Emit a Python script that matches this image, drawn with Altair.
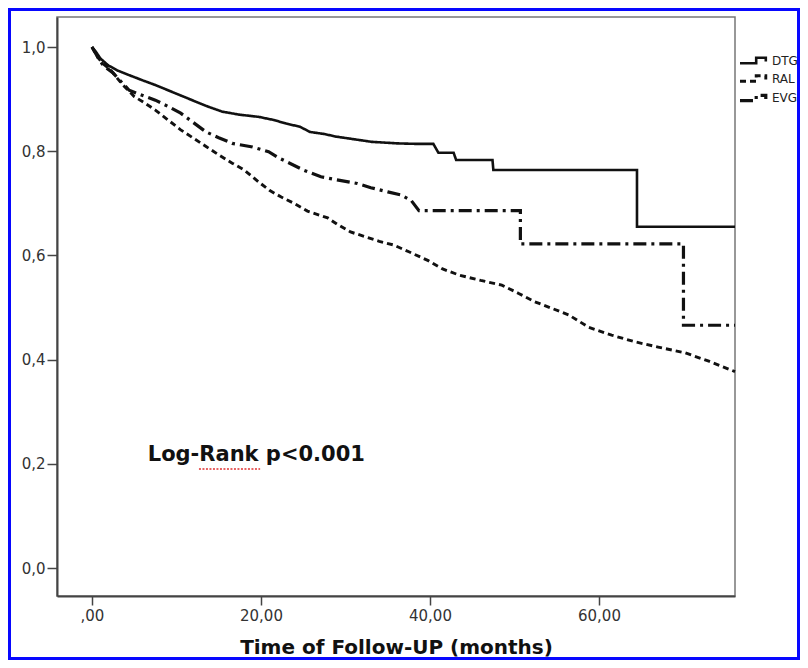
import altair as alt
import pandas as pd

# ---- data (Kaplan-Meier estimates) ----
series_names = ["DTG", "RAL", "EVG"]

dtg_t = [0, 0.5, 1, 1.9, 3, 4.4, 6, 7.5, 9, 10.5, 12, 13.5, 15.4, 17.5, 19.7, 21.5, 23,
         24.6, 25.8, 27.5, 28.9, 31, 33.1, 36.2, 38.5, 40.4, 41.0, 42.8, 43.1, 47.4, 47.5,
         64.5, 64.5, 76.1]
dtg_s = [1.0, 0.99, 0.978, 0.965, 0.955, 0.946, 0.936, 0.927, 0.917, 0.907, 0.897, 0.887,
         0.876, 0.870, 0.866, 0.860, 0.853, 0.847, 0.837, 0.833, 0.828, 0.823, 0.818, 0.815,
         0.814, 0.814, 0.797, 0.797, 0.783, 0.783, 0.764, 0.764, 0.655, 0.655]

evg_t = [0, 0.7, 1.3, 2.5, 4.4, 6, 7.5, 9, 10.5, 12, 13.5, 15, 16.6, 19, 20.9, 22, 23.4, 25,
         27.1, 29, 31.4, 33, 35, 36.6, 37.8, 38.7, 50.7, 50.7, 70.0, 70.0, 76.1]
evg_s = [1.0, 0.98, 0.965, 0.95, 0.917, 0.907, 0.898, 0.886, 0.873, 0.855, 0.837, 0.826,
         0.815, 0.808, 0.799, 0.788, 0.777, 0.764, 0.751, 0.745, 0.738, 0.730, 0.722, 0.716,
         0.705, 0.686, 0.686, 0.622, 0.622, 0.466, 0.466]

ral_t = [0, 0.7, 1.3, 2.2, 3.5, 5, 6.3, 7.5, 9, 10.5, 12, 13.5, 15, 16.6, 18, 19.8, 21, 22.4,
         23.9, 25.5, 27.9, 29, 30.6, 32.5, 34, 35.7, 37.5, 39.8, 41.5, 43.5, 46, 48.5, 50.5,
         52.4, 54.5, 56.4, 58.8, 61.5, 64.3, 67, 70.2, 73, 76.1]
ral_s = [1.0, 0.98, 0.968, 0.956, 0.93, 0.905, 0.892, 0.879, 0.86, 0.841, 0.825, 0.809,
         0.793, 0.777, 0.764, 0.740, 0.725, 0.712, 0.700, 0.685, 0.672, 0.660, 0.645, 0.635,
         0.627, 0.620, 0.607, 0.590, 0.574, 0.562, 0.552, 0.543, 0.527, 0.511, 0.498, 0.486,
         0.462, 0.447, 0.434, 0.424, 0.413, 0.397, 0.377]

x_ticks = [0, 20, 40, 60]
y_ticks = [0.0, 0.2, 0.4, 0.6, 0.8, 1.0]
x_domain = [-4.14, 76.1]
y_domain = [-0.0537, 1.0576]

annot_text = "Log-Rank p<0.001"
annot_x, annot_y = 6.6, 0.205
squiggle_x, squiggle_x2, squiggle_y = 12.66, 19.9, 0.19

# ---- build long table ----
rows = []
for name, ts, ss in [("DTG", dtg_t, dtg_s), ("RAL", ral_t, ral_s), ("EVG", evg_t, evg_s)]:
    for i, (t, s) in enumerate(zip(ts, ss)):
        rows.append({"series": name, "t": t, "s": s, "i": i})
df = pd.DataFrame(rows)

W, H = 678, 579

xscale = alt.Scale(domain=x_domain, nice=False, zero=False)
yscale = alt.Scale(domain=y_domain, nice=False, zero=False)

step_path = "M -2.1 0.45 H 0.6 V -0.45 H 2.2 V 0.15"

lines = alt.Chart(df).mark_line(color="#111111", strokeJoin="miter", strokeCap="butt").encode(
    x=alt.X("t:Q", scale=xscale,
            axis=alt.Axis(values=x_ticks, title="Time of Follow-UP (months)",
                          labelExpr="datum.value == 0 ? ',00' : replace(format(datum.value, '.2f'), '.', ',')",
                          grid=False)),
    y=alt.Y("s:Q", scale=yscale,
            axis=alt.Axis(values=y_ticks, title="",
                          labelExpr="replace(format(datum.value, '.1f'), '.', ',')",
                          grid=False)),
    strokeDash=alt.StrokeDash("series:N",
                              scale=alt.Scale(domain=series_names,
                                              range=[[1, 0], [6, 4], [13, 5, 3, 5]]),
                              legend=alt.Legend(title=None, orient="none", legendX=687.6,
                                                legendY=36, symbolType=step_path,
                                                symbolSize=144, symbolStrokeWidth=2,
                                                symbolStrokeColor="#111111",
                                                symbolFillColor="transparent",
                                                labelFont="DejaVu Sans", labelFontSize=12,
                                                labelColor="#222222", labelOffset=11.4,
                                                rowPadding=1, padding=0)),
    strokeWidth=alt.StrokeWidth("series:N",
                                scale=alt.Scale(domain=series_names, range=[2.6, 3.2, 2.8]),
                                legend=None),
    detail="series:N",
    order=alt.Order("i:Q"),
)

annot = alt.Chart(pd.DataFrame({"t": [annot_x], "s": [annot_y], "txt": [annot_text]})).mark_text(
    align="left", baseline="alphabetic", font="DejaVu Sans", fontWeight="bold",
    fontSize=21, color="#111111"
).encode(x=alt.X("t:Q", scale=xscale), y=alt.Y("s:Q", scale=yscale), text="txt:N")

squiggle = alt.Chart(pd.DataFrame({"t": [squiggle_x], "t2": [squiggle_x2], "s": [squiggle_y]})).mark_rule(
    color="#e03030", strokeWidth=1.5, strokeDash=[2, 1.5]
).encode(x=alt.X("t:Q", scale=xscale), x2="t2:Q", y=alt.Y("s:Q", scale=yscale))

border = alt.Chart(pd.DataFrame({"a": [0]})).mark_rect(
    fillOpacity=0, stroke="#0808ff", strokeWidth=3
).encode(x=alt.value(-47.5), x2=alt.value(741.5), y=alt.value(-7.5), y2=alt.value(641.5))

chart = alt.layer(lines, annot, squiggle, border).properties(
    width=W, height=H,
    autosize=alt.AutoSizeParams(type="none"),
    padding={"left": 49, "top": 9, "right": 65, "bottom": 64},
    background="white",
).configure_view(
    stroke="#777777", strokeWidth=1.5
).configure_axis(
    labelFont="DejaVu Sans", labelFontSize=15, labelColor="#333333",
    tickColor="#444444", tickWidth=1.5, domainColor="#444444", domainWidth=2,
    titleFont="DejaVu Sans", titleFontSize=20, titleFontWeight="bold", titleColor="#111111",
).configure_axisX(
    tickSize=9, labelPadding=3, titlePadding=14
).configure_axisY(
    tickSize=10, labelPadding=2
)

chart.save("out.html", embed_options={"renderer": "svg", "actions": False})
